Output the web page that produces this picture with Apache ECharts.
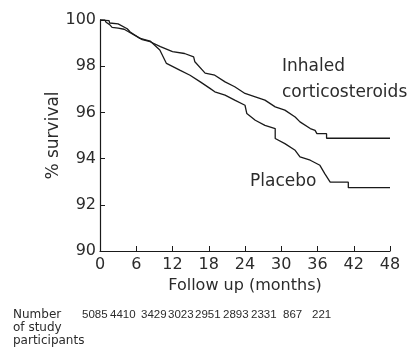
<!DOCTYPE html>
<html>
<head>
<meta charset="utf-8">
<script src="https://cdn.jsdelivr.net/npm/echarts@6/dist/echarts.min.js"></script>
<style>
  html, body { margin: 0; padding: 0; background: #fff; }
  #chart { width: 408px; height: 353px; }
</style>
</head>
<body>
<div id="chart"></div>
<script>
// survival curves: [month, % survival]
const inhaledCs = [
  [0, 100], [0.8, 100], [1.0, 99.9], [1.6, 99.8], [2, 99.68], [3, 99.65], [4, 99.6],
  [5, 99.45], [6, 99.3], [7, 99.15], [8.3, 99.06], [10, 98.85], [12, 98.63], [14, 98.55],
  [15.5, 98.4], [15.7, 98.19], [17.4, 97.7], [19, 97.61], [20.7, 97.32], [22.3, 97.11],
  [24, 96.82], [25.7, 96.67], [27.3, 96.53], [29, 96.24], [30.6, 96.1], [32.3, 95.8],
  [33.1, 95.59], [34.8, 95.3], [35.6, 95.22], [35.9, 95.08], [37.5, 95.08], [37.5, 94.88],
  [48, 94.88]
]
const placebo = [
  [0, 100], [1.5, 99.97], [1.6, 99.87], [3, 99.83], [4.5, 99.62], [5, 99.48], [6.5, 99.22],
  [8.3, 99.09], [9.9, 98.7], [11, 98.12], [13.2, 97.83], [14.9, 97.61], [16.6, 97.32],
  [18.2, 97.04], [19, 96.89], [20.7, 96.75], [22.3, 96.53], [24, 96.31], [24.3, 95.95],
  [25.7, 95.66], [27.3, 95.44], [29, 95.3], [29, 94.87], [30.6, 94.65], [32.3, 94.36],
  [33.1, 94.07], [34.8, 93.93], [36.4, 93.71], [37.2, 93.35], [38.1, 92.98], [41.1, 92.98],
  [41.1, 92.74], [48, 92.74]
]
const atRisk = [5085, 4410, 3429, 3023, 2951, 2893, 2331, 867, 221]
const rowLabel = ['Number', 'of study', 'participants']

const atRiskX = [82, 110, 141, 168, 195, 223, 251, 283, 312]
const INK = '#1a1a1a'
const TXT = '#2b2b2b'
const FONT = 'DejaVu Sans'

const chart = echarts.init(document.getElementById('chart'))

const graphic = [
  { type: 'text', left: 282, top: 58, style: { text: 'Inhaled', fill: TXT, font: `17px "${FONT}"` } },
  { type: 'text', left: 282, top: 84, style: { text: 'corticosteroids', fill: TXT, font: `17px "${FONT}"` } },
  { type: 'text', left: 250, top: 173, style: { text: 'Placebo', fill: TXT, font: `17px "${FONT}"` } }
]
rowLabel.forEach((t, i) => {
  graphic.push({ type: 'text', left: 13, top: 309 + i * 13, style: { text: t, fill: TXT, font: `12px "${FONT}"` } })
})
atRisk.forEach((n, i) => {
  graphic.push({ type: 'text', left: atRiskX[i], top: 309, style: { text: String(n), fill: TXT, font: '11.5px "Liberation Sans"' } })
})

chart.setOption({
  animation: false,
  grid: { left: 100, right: 18, top: 20, bottom: 102 },
  xAxis: {
    type: 'value', min: 0, max: 48, interval: 6,
    name: 'Follow up (months)', nameLocation: 'middle', nameGap: 23,
    nameTextStyle: { fontSize: 16, color: TXT, fontFamily: FONT },
    axisLine: { lineStyle: { color: INK, width: 1.2 } },
    axisTick: { inside: true, length: 5, lineStyle: { color: INK } },
    axisLabel: { fontSize: 16, color: TXT, fontFamily: FONT, margin: 6 },
    splitLine: { show: false }
  },
  yAxis: {
    type: 'value', min: 90, max: 100, interval: 2,
    name: '% survival', nameLocation: 'middle', nameGap: 38, nameRotate: 90,
    nameMoveOverlap: false,
    nameTextStyle: { fontSize: 17, color: TXT, fontFamily: FONT },
    axisLine: { show: true, lineStyle: { color: INK, width: 1.2 } },
    axisTick: { show: true, inside: true, length: 5, lineStyle: { color: INK } },
    axisLabel: { fontSize: 16, color: TXT, fontFamily: FONT, margin: 4 },
    splitLine: { show: false }
  },
  series: [
    { name: 'Inhaled corticosteroids', type: 'line', data: inhaledCs, showSymbol: false,
      lineStyle: { color: INK, width: 1.3 } },
    { name: 'Placebo', type: 'line', data: placebo, showSymbol: false,
      lineStyle: { color: INK, width: 1.3 } }
  ],
  graphic
})
</script>
</body>
</html>
